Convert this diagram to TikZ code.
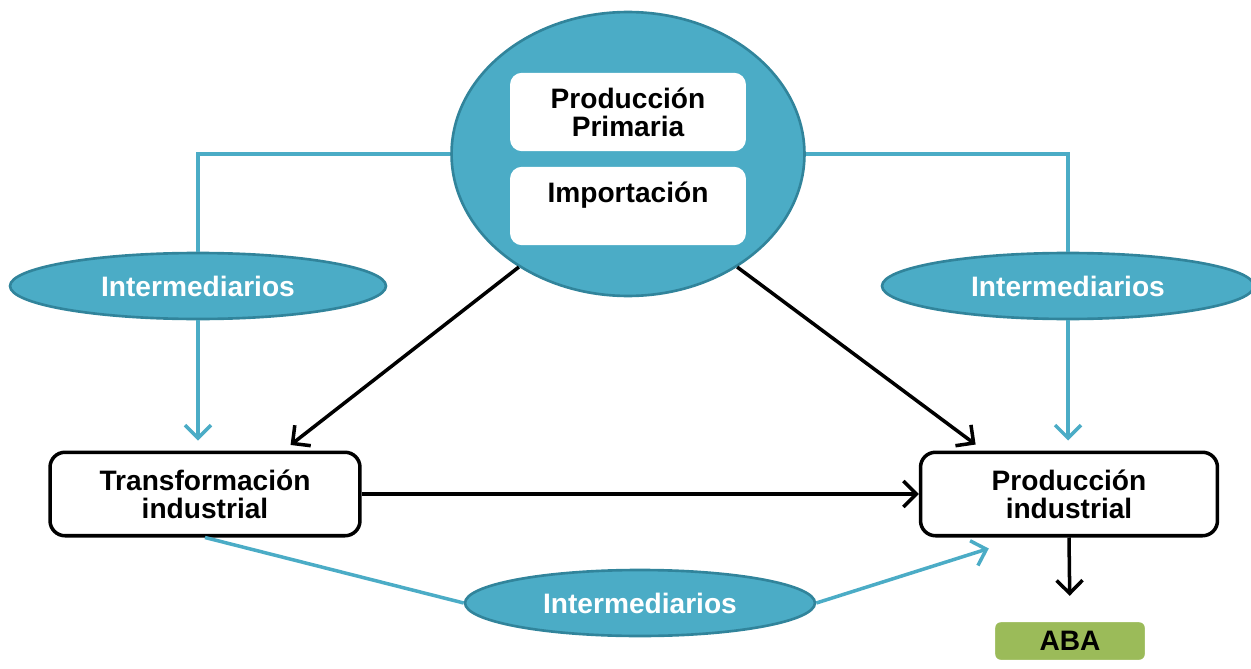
\documentclass[tikz,border=0pt]{standalone}
\usepackage{fontspec}
\setmainfont{Liberation Sans}
\usepackage{tikz}
\usetikzlibrary{arrows.meta,positioning,shapes.geometric,calc}
\definecolor{abateal}{HTML}{4BACC6}
\definecolor{abadark}{HTML}{31849B}
\definecolor{abagreen}{HTML}{9BBB59}

\begin{document}
\begin{tikzpicture}[x=0.02cm,y=-0.02cm,every node/.style={font=\fontsize{16}{16}\selectfont\bfseries,align=center}]
\tikzset{hub/.style={ellipse,draw=abadark,line width=1.5pt,fill=abateal,minimum width=7.06cm,minimum height=5.68cm,inner sep=0pt},
  src/.style={rectangle,rounded corners=2.4mm,fill=white,minimum width=4.72cm,minimum height=1.57cm,inner sep=0pt},
  inter/.style={ellipse,draw=abadark,line width=1.5pt,fill=abateal,text=white,minimum height=1.32cm,inner sep=0pt},
  stage/.style={rectangle,rounded corners=3mm,draw=black,line width=2pt,fill=white,minimum height=1.67cm,inner sep=0pt},
  aba/.style={rectangle,rounded corners=1.5mm,draw=white,line width=2.5pt,fill=abagreen,minimum width=3.08cm,minimum height=0.84cm,inner sep=0pt},
  flow/.style={-{Straight Barb[length=2.6mm,width=5.2mm]},black,line width=2pt},
  feed/.style={abateal,line width=2pt},
  feedarr/.style={feed,-{Straight Barb[length=2.6mm,width=5.2mm]}}}
\useasboundingbox (0,0) rectangle (1251,669);
\node[inter,minimum width=7.52cm] (interL) at (198,286) {Intermediarios};
\node[inter,minimum width=7.44cm] (interR) at (1068,286) {Intermediarios};
\node[inter,minimum width=7.0cm] (interB) at (640,603) {Intermediarios};
\node[stage,minimum width=6.2cm] (trans) at (205,494) {Transformación\\industrial};
\node[stage,minimum width=5.94cm] (prod) at (1069,494) {Producción\\industrial};
\node[aba] (abaN) at (1070,641) {ABA};
\node[hub] (hub) at (628,154) {};
\node[src] (prim) at (628,112) {Producción\\Primaria};
\node[src] (imp) at (628,206) {Importación\\~};
% conexiones
\draw[feed] (hub.west) -| (interL.north);
\draw[feed] (hub.east) -| (interR.north);
\draw[feedarr,shorten >=2mm] (interL.south) -- (interL.south |- trans.north);
\draw[feedarr,shorten >=2mm] (interR.south) -- (interR.south |- prod.north);
\draw[flow,shorten >=1.8mm] (hub.226) -- (trans.29);
\draw[flow,shorten >=2mm] (hub.-46) -- (prod.153);
\draw[flow] (trans.east) -- (prod.west);
\draw[flow,shorten >=4.4mm] (prod.south) -- (abaN.north);
\draw[feed] (trans.south) -- (interB.west);
\draw[feedarr] (interB.east) -- ([xshift=1.4cm,yshift=-0.22cm]prod.south west);
\end{tikzpicture}
\end{document}
